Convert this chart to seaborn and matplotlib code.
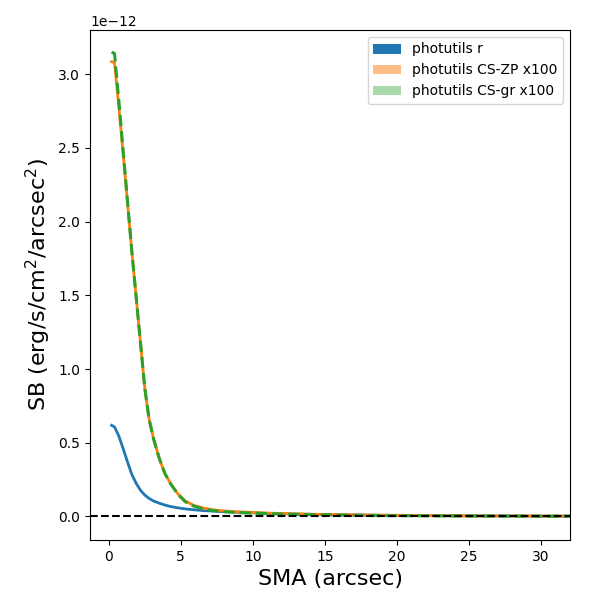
import matplotlib
matplotlib.use("Agg")
import matplotlib.pyplot as plt
from matplotlib.patches import Patch
import numpy as np
import pandas as pd
import seaborn as sns

sma = [0.2, 0.4, 0.7, 1.0, 1.3, 1.6, 1.9, 2.2, 2.5, 2.8, 3.1, 3.5, 3.9, 4.3,
       4.8, 5.3, 5.9, 6.5, 7.2, 8.0, 9.0, 10.0, 11.2, 12.5, 14.0, 15.5, 17.5,
       19.5, 22.0, 24.5, 27.5, 30.5, 34.0]

sb_r = [0.618, 0.607, 0.545, 0.46, 0.37, 0.285, 0.225, 0.178, 0.145, 0.122,
        0.105, 0.090, 0.077, 0.067, 0.058, 0.051, 0.045, 0.040, 0.036, 0.032,
        0.028, 0.024, 0.020, 0.017, 0.014, 0.011, 0.009, 0.007, 0.005, 0.004,
        0.003, 0.002, 0.002]

sb_zp = [3.085, 3.08, 2.78, 2.46, 2.13, 1.80, 1.49, 1.18, 0.87, 0.66,
         0.53, 0.395, 0.29, 0.222, 0.153, 0.105, 0.075, 0.058, 0.045, 0.037,
         0.031, 0.027, 0.022, 0.019, 0.015, 0.013, 0.010, 0.008, 0.006, 0.004,
         0.003, 0.002, 0.002]

sb_gr = [3.15, 3.14, 2.82, 2.48, 2.14, 1.80, 1.49, 1.18, 0.87, 0.66,
         0.53, 0.395, 0.29, 0.220, 0.150, 0.100, 0.070, 0.052, 0.040, 0.032,
         0.026, 0.022, 0.018, 0.015, 0.012, 0.010, 0.007, 0.005, 0.004, 0.003,
         0.002, 0.001, 0.001]

labels = ["photutils r", "photutils CS-ZP x100", "photutils CS-gr x100"]
scale = 1e-12

df = pd.DataFrame({"sma": sma,
                   "r": np.array(sb_r) * scale,
                   "zp": np.array(sb_zp) * scale,
                   "gr": np.array(sb_gr) * scale})

fig, ax = plt.subplots(figsize=(6, 6), dpi=100)
fig.subplots_adjust(left=0.15, right=0.95, bottom=0.1, top=0.95)

c0, c1, c2 = "#1f77b4", "#ff7f0e", "#2ca02c"
sns.lineplot(data=df, x="sma", y="r", ax=ax, color=c0, lw=2, legend=False)
sns.lineplot(data=df, x="sma", y="zp", ax=ax, color=c1, lw=2, legend=False)
sns.lineplot(data=df, x="sma", y="gr", ax=ax, color=c2, lw=2.2, ls="--", legend=False)
ax.axhline(0, color="k", ls="--", lw=1.5)

ax.set_xlim(-1.3, 32)
ax.set_ylim(-0.16e-12, 3.30e-12)
ax.set_xlabel("SMA (arcsec)", fontsize=16)
ax.set_ylabel("SB (erg/s/cm$^2$/arcsec$^2$)", fontsize=16)

handles = [Patch(facecolor=c0, alpha=1.0),
           Patch(facecolor=c1, alpha=0.5),
           Patch(facecolor=c2, alpha=0.4)]
ax.legend(handles, labels, loc="upper right")

fig.savefig("out.png", dpi=100)
